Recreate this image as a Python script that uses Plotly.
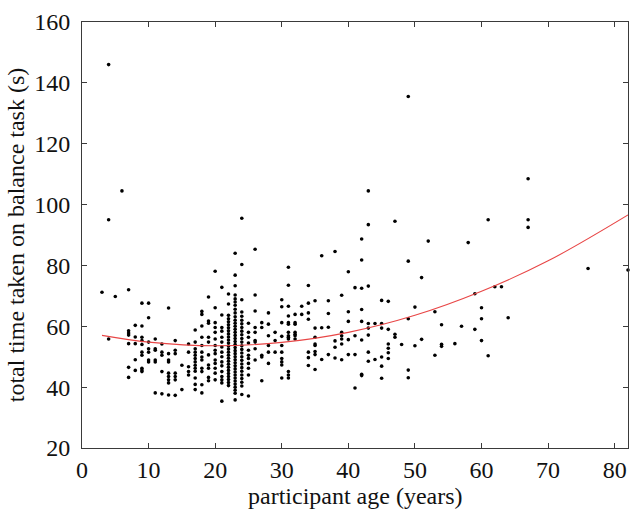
import plotly.graph_objects as go

# ---- data (age columns and the times at each age) ----
col_ages = [3, 4, 5, 6, 7, 8, 9, 10, 11, 12, 13, 14, 15, 16, 17, 18, 19, 20, 21,
            22, 23, 24, 25, 26, 27, 28, 29, 30, 31, 32, 33, 34, 35, 36, 37, 38,
            39, 40, 41, 42, 43, 44, 45, 46, 47, 48, 49, 50, 51, 52, 53, 54, 56,
            57, 58, 59, 60, 61, 62, 63, 64, 67, 76, 82]

col_times = [
    [71.2],                                                     # 3
    [146.0, 95.0, 55.8],                                        # 4
    [69.8],                                                     # 5
    [104.5],                                                    # 6
    [72.0, 58.5, 57.8, 57.1, 54.3, 46.5, 43.2],                 # 7
    [60.3, 56.5, 54.3, 49.0, 45.5],                             # 8
    [67.6, 60.1, 56.4, 55.3, 54.0, 51.5, 50.5, 46.2, 45.6, 45.1],  # 9
    [67.6, 62.8, 54.8, 52.6, 51.5, 48.9, 48.3],                 # 10
    [55.8, 52.6, 52.1, 48.9, 48.3, 38.1],                       # 11
    [54.2, 51.5, 50.5, 45.1, 37.8],                             # 12
    [66.0, 51.0, 48.9, 48.3, 44.6, 43.5, 42.4, 41.4, 37.4],     # 13
    [55.3, 52.1, 51.0, 44.6, 43.5, 42.4, 37.3],                 # 14
    [47.2, 39.2],                                               # 15
    [54.2, 51.5, 46.7, 45.1, 44.0],                             # 16
    [58.8, 54.8, 52.6, 51.5, 50.5, 49.4, 48.3, 47.2, 46.2, 45.2, 43.0, 40.9, 39.2],  # 17
    [64.9, 63.9, 60.1, 56.4, 53.7, 51.5, 49.9, 48.9, 46.2, 45.1, 40.8, 38.1],        # 18
    [69.6, 61.7, 61.0, 56.4, 54.8, 50.6, 47.3, 46.2, 43.2, 42.1],                    # 19
    [78.1, 66.1, 61.2, 59.6, 58.0, 55.8, 53.7, 52.1, 51.0, 48.9, 47.8, 46.2, 44.6, 42.4],  # 20
    [72.8, 63.7, 59.6, 58.4, 56.4, 54.8, 53.2, 51.5, 50.0, 48.3, 47.0, 45.1, 43.5,
     42.4, 41.4, 35.4],                                                              # 21
    [70.6, 67.3, 63.6, 62.5, 61.5, 60.5, 59.5, 58.5, 57.5, 56.5, 55.5, 54.5, 53.5,
     52.5, 51.5, 50.5, 49.5, 48.5, 47.5, 46.5, 45.5, 44.5, 43.5, 42.5, 41.5, 40.5],  # 22
    [84.0, 76.8, 73.3, 70.3, 69.0, 68.0, 66.9, 65.6, 64.4, 63.1, 62.0, 61.0, 60.0,
     59.0, 58.0, 57.0, 56.0, 55.0, 54.0, 53.0, 52.0, 51.0, 50.0, 49.0, 48.0, 47.0,
     46.0, 45.0, 44.0, 43.0, 42.0, 41.0, 40.0, 39.0, 38.0, 35.8],                    # 23
    [95.5, 80.3, 68.7, 64.7, 63.3, 62.0, 60.8, 59.6, 58.4, 57.2, 56.0, 54.8, 53.6,
     52.4, 51.2, 50.0, 48.8, 47.6, 46.4, 45.2, 44.0, 42.8, 41.6, 40.4, 37.6],        # 24
    [61.0, 58.0, 56.4, 54.5, 52.1, 50.5, 49.4, 47.8, 46.2, 44.0, 37.1],              # 25
    [85.3, 70.3, 65.0, 59.6, 58.0, 55.3, 54.8, 52.6, 48.9],                          # 26
    [61.2, 59.6, 50.5, 49.9, 42.1],                             # 27
    [64.4, 60.7, 56.9, 53.7, 51.5, 47.8],                       # 28
    [58.0, 55.3, 51.5],                                         # 29
    [68.7, 66.4, 61.2, 56.7, 53.7, 51.5, 49.4, 48.3, 47.3, 43.0],  # 30
    [79.4, 73.5, 66.6, 63.4, 61.2, 60.7, 58.0, 56.9, 56.4, 55.8, 45.1, 44.0, 43.0],  # 31
    [63.9, 61.2, 60.7, 58.0, 57.4, 56.9, 55.8],                 # 32
    [66.6, 63.9],                                               # 33
    [73.4, 67.6, 64.4, 62.3, 51.5, 49.7, 47.1],                 # 34
    [68.4, 59.4, 56.4, 54.2, 53.7, 51.7, 50.7, 45.8],           # 35
    [83.2, 59.5, 49.1],                                         # 36
    [68.4, 64.2, 59.7, 50.7],                                   # 37
    [84.6, 55.2, 53.1, 49.6],                                   # 38
    [70.2, 58.0, 56.9, 55.8, 54.2, 49.0],                       # 39
    [77.9, 64.8, 61.6, 55.6, 50.7],                             # 40
    [72.7, 56.9, 50.7, 39.7],                                   # 41
    [88.7, 81.8, 72.5, 65.5, 61.6, 55.5, 44.2, 43.8],           # 42
    [104.5, 93.4, 73.2, 60.9, 59.4, 57.1, 51.5, 48.5],          # 43
    [60.9, 49.1],                                               # 44
    [68.5, 60.9, 59.4, 49.9, 46.9, 42.9],                       # 45
    [68.2, 59.0, 54.2, 52.8, 51.3, 49.4],                       # 46
    [94.5, 57.4, 56.4],                                         # 47
    [54.0],                                                     # 48
    [135.5, 81.4, 62.5, 45.6, 43.1],                            # 49
    [66.3, 53.6],                                               # 50
    [76.0, 55.7],                                               # 51
    [88.0],                                                     # 52
    [64.8, 50.5],                                               # 53
    [60.5, 54.1, 53.4],                                         # 54
    [54.3],                                                     # 56
    [60.0],                                                     # 57
    [87.5],                                                     # 58
    [70.7, 59.0],                                               # 59
    [66.1, 62.5, 55.3],                                         # 60
    [95.0, 50.3],                                               # 61
    [73.0],                                                     # 62
    [73.0],                                                     # 63
    [62.8],                                                     # 64
    [108.5, 95.0, 92.5],                                        # 67
    [79.0],                                                     # 76
    [78.5],                                                     # 82
]

# quadratic trend line read at a few ages
fit_ages = [3, 10, 20, 30, 40, 50, 60, 70, 82]
fit_times = [57.0, 54.8, 53.6, 54.7, 58.0, 63.6, 71.5, 81.5, 96.6]

x_ticks = [0, 10, 20, 30, 40, 50, 60, 70, 80]
y_ticks = [20, 40, 60, 80, 100, 120, 140, 160]

x_title = "participant age (years)"
y_title = "total time taken on balance task (s)"

ages = []
times = []
for a, ts in zip(col_ages, col_times):
    for t in ts:
        ages.append(a)
        times.append(t)

FONT = "Liberation Serif"
FS = 24
AX = "#3a3a3a"
W, H = 638, 513
M = dict(l=82, r=9, t=13, b=65)
plot_h = H - M["t"] - M["b"]

fig = go.Figure()
fig.add_trace(go.Scatter(
    x=ages, y=times, mode="markers",
    marker=dict(color="black", size=3.6, line=dict(width=0)),
    cliponaxis=False, showlegend=False, hoverinfo="skip"))
fig.add_trace(go.Scatter(
    x=fit_ages, y=fit_times, mode="lines",
    line=dict(color="rgb(232,70,70)", width=1.1, shape="spline"),
    showlegend=False, hoverinfo="skip"))

axis_common = dict(
    showline=True, linecolor=AX, linewidth=1, mirror="ticks",
    ticks="inside", ticklen=5, tickcolor=AX, tickwidth=1,
    showgrid=False, zeroline=False, ticklabeloverflow="allow",
    tickfont=dict(family=FONT, size=FS, color="#111"),
)

fig.update_xaxes(range=[0, 82], tickvals=x_ticks, ticklabelstandoff=0,
                 **axis_common)
fig.update_yaxes(range=[20, 160], tickvals=y_ticks, ticklabelstandoff=6,
                 title=dict(text=y_title, standoff=2,
                            font=dict(family=FONT, size=FS, color="#111")),
                 **axis_common)

# x-axis title placed just above the bottom edge of the figure
fig.add_annotation(
    text=x_title, xref="paper", yref="paper",
    x=0.5, y=-(M["b"] - 1) / plot_h, xanchor="center", yanchor="bottom",
    showarrow=False, font=dict(family=FONT, size=FS, color="#111"))

fig.update_layout(
    width=W, height=H,
    margin=M,
    plot_bgcolor="white", paper_bgcolor="white",
    font=dict(family=FONT),
)

# remove the default page margin so the figure fills the window exactly
fig.write_html("out.html",
               config={"displayModeBar": False},
               post_script="document.body.style.margin='0';"
                           "document.body.style.overflow='hidden';")
